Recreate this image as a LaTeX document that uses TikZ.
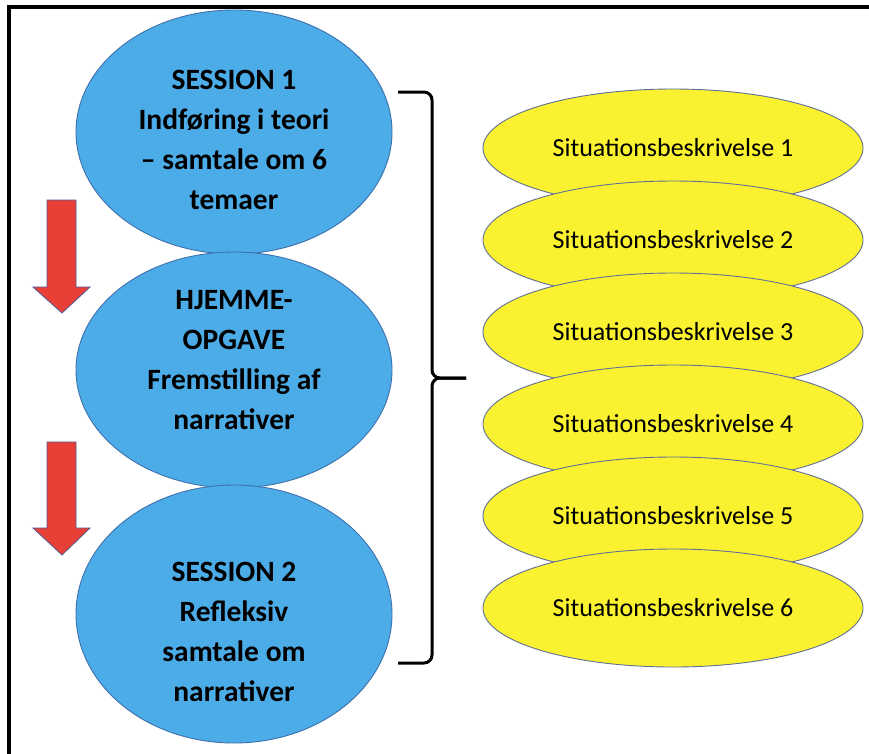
\documentclass[tikz,border=0pt]{standalone}
\usepackage{fontspec}
\setmainfont{Carlito}
\usetikzlibrary{shapes.geometric}
\definecolor{bluefill}{RGB}{76,172,232}
\definecolor{blueline}{RGB}{62,112,172}
\definecolor{yellfill}{RGB}{250,242,48}
\definecolor{yellline}{RGB}{96,112,150}
\definecolor{redfill}{RGB}{232,64,54}
\definecolor{redline}{RGB}{80,90,150}
\begin{document}
\begin{tikzpicture}[x=1pt,y=-1pt,
  blueell/.style={ellipse, draw=blueline, line width=0.9pt, fill=bluefill,
    minimum width=316pt, inner sep=0pt},
  bluetext/.style={align=center, inner sep=0pt,
    font=\fontsize{29.5}{40}\selectfont\bfseries},
  yellell/.style={ellipse, draw=yellline, line width=0.9pt, fill=yellfill,
    minimum width=380pt, minimum height=118pt, inner sep=0pt,
    font=\fontsize{26}{30}\selectfont},
  redarrow/.style={fill=redfill, draw=redline, line width=0.8pt, line join=miter},
  bracestyle/.style={line width=3pt, rounded corners=8pt}]
\useasboundingbox (0,0) rectangle (869,753);
\fill[white] (0,0) rectangle (869,753);
% frame
\draw[line width=4pt] (8.5,760) -- (8.5,7) -- (875,7);
% blue ellipses
\node[blueell, minimum height=244pt] (s1) at (234,132) {};
\node[bluetext] (s1t) at (234,140) {SESSION 1\\Indføring i teori\\– samtale om 6\\temaer};
\node[blueell, minimum height=236pt] (hj) at (234,370) {};
\node[bluetext] (hjt) at (234,360) {HJEMME-\\OPGAVE\\Fremstilling af\\narrativer};
\node[blueell, minimum height=258pt] (s2) at (234,614) {};
\node[bluetext] (s2t) at (234,632) {SESSION 2\\Refleksiv\\samtale om\\narrativer};
% red arrows
\draw[redarrow] (47,200) -- (76,200) -- (76,287) -- (90,287) -- (62,313) -- (33,287) -- (47,287) -- cycle;
\draw[redarrow] (47,442) -- (76,442) -- (76,528) -- (90,528) -- (62,555) -- (33,528) -- (47,528) -- cycle;
% yellow ellipses
\node[yellell] (y1) at (673,148) {Situationsbeskrivelse 1};
\node[yellell] (y2) at (673,240) {Situationsbeskrivelse 2};
\node[yellell] (y3) at (673,332) {Situationsbeskrivelse 3};
\node[yellell] (y4) at (673,424) {Situationsbeskrivelse 4};
\node[yellell] (y5) at (673,516) {Situationsbeskrivelse 5};
\node[yellell] (y6) at (673,608) {Situationsbeskrivelse 6};
% brace
\coordinate (btop) at (398,92);
\coordinate (bbot) at (398,663);
\coordinate (btip) at (466,378);
\draw[bracestyle] (btop) -- (432,92) -- (432,378) -- (btip);
\draw[bracestyle] (bbot) -- (432,663) -- (432,378) -- (btip);
\end{tikzpicture}
\end{document}
